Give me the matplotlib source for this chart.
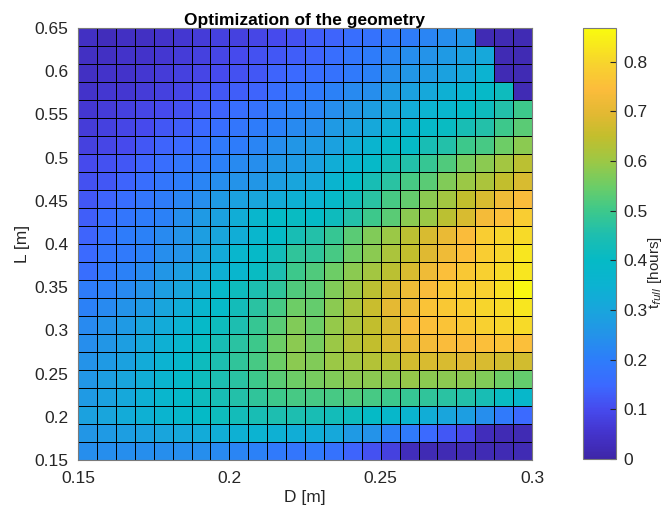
import numpy as np
import matplotlib
matplotlib.use('Agg')
import matplotlib.pyplot as plt
from matplotlib.colors import LinearSegmentedColormap

# grid edges (pcolor style, 24 x 24 cells)
D_edges = np.linspace(0.15, 0.30, 25)
L_edges = np.linspace(0.15, 0.65, 25)

# t [hours], rows from top (L = 0.65) to bottom (L = 0.15), columns D = 0.15 -> 0.30
t_rows = [
    [0.04, 0.03, 0.04, 0.04, 0.05, 0.06, 0.07, 0.08, 0.08, 0.09, 0.10, 0.11, 0.13, 0.14, 0.16, 0.17, 0.19, 0.20, 0.22, 0.24, 0.26, 0.02, 0.02, 0.02],
    [0.04, 0.04, 0.05, 0.05, 0.06, 0.07, 0.08, 0.09, 0.10, 0.11, 0.12, 0.13, 0.14, 0.16, 0.18, 0.20, 0.22, 0.24, 0.25, 0.27, 0.29, 0.31, 0.02, 0.02],
    [0.04, 0.05, 0.05, 0.06, 0.07, 0.08, 0.09, 0.10, 0.11, 0.12, 0.14, 0.15, 0.16, 0.17, 0.19, 0.21, 0.24, 0.26, 0.27, 0.29, 0.31, 0.35, 0.02, 0.02],
    [0.05, 0.06, 0.06, 0.07, 0.08, 0.09, 0.11, 0.12, 0.13, 0.14, 0.16, 0.18, 0.19, 0.21, 0.23, 0.24, 0.27, 0.29, 0.31, 0.34, 0.36, 0.39, 0.42, 0.02],
    [0.06, 0.07, 0.08, 0.09, 0.10, 0.11, 0.13, 0.14, 0.16, 0.17, 0.20, 0.21, 0.22, 0.24, 0.26, 0.28, 0.30, 0.32, 0.35, 0.37, 0.40, 0.42, 0.46, 0.50],
    [0.07, 0.08, 0.09, 0.10, 0.12, 0.13, 0.15, 0.16, 0.18, 0.20, 0.21, 0.23, 0.24, 0.27, 0.29, 0.31, 0.34, 0.36, 0.39, 0.41, 0.44, 0.46, 0.50, 0.53],
    [0.08, 0.09, 0.10, 0.12, 0.14, 0.15, 0.17, 0.19, 0.20, 0.22, 0.24, 0.26, 0.27, 0.29, 0.33, 0.36, 0.39, 0.40, 0.44, 0.46, 0.50, 0.51, 0.55, 0.58],
    [0.10, 0.11, 0.12, 0.14, 0.16, 0.18, 0.19, 0.21, 0.23, 0.24, 0.26, 0.27, 0.29, 0.33, 0.36, 0.39, 0.43, 0.46, 0.49, 0.52, 0.56, 0.58, 0.61, 0.64],
    [0.11, 0.12, 0.14, 0.16, 0.18, 0.20, 0.22, 0.24, 0.25, 0.26, 0.28, 0.30, 0.31, 0.36, 0.40, 0.44, 0.47, 0.51, 0.53, 0.57, 0.60, 0.62, 0.65, 0.68],
    [0.12, 0.14, 0.16, 0.18, 0.20, 0.22, 0.24, 0.27, 0.29, 0.30, 0.32, 0.34, 0.35, 0.39, 0.43, 0.47, 0.51, 0.54, 0.58, 0.61, 0.65, 0.68, 0.72, 0.74],
    [0.13, 0.16, 0.18, 0.20, 0.21, 0.24, 0.27, 0.29, 0.33, 0.37, 0.40, 0.41, 0.40, 0.42, 0.46, 0.50, 0.53, 0.58, 0.60, 0.64, 0.68, 0.73, 0.75, 0.78],
    [0.14, 0.17, 0.20, 0.21, 0.23, 0.25, 0.28, 0.30, 0.33, 0.37, 0.40, 0.44, 0.46, 0.49, 0.53, 0.57, 0.60, 0.64, 0.68, 0.71, 0.74, 0.78, 0.80, 0.81],
    [0.15, 0.18, 0.19, 0.21, 0.24, 0.25, 0.29, 0.32, 0.37, 0.39, 0.43, 0.48, 0.48, 0.51, 0.55, 0.58, 0.62, 0.65, 0.69, 0.72, 0.75, 0.78, 0.80, 0.83],
    [0.16, 0.19, 0.21, 0.23, 0.26, 0.28, 0.31, 0.34, 0.37, 0.41, 0.45, 0.50, 0.52, 0.55, 0.58, 0.61, 0.64, 0.68, 0.72, 0.75, 0.77, 0.79, 0.81, 0.83],
    [0.20, 0.21, 0.23, 0.25, 0.28, 0.30, 0.33, 0.38, 0.42, 0.45, 0.48, 0.52, 0.53, 0.57, 0.60, 0.64, 0.68, 0.72, 0.74, 0.77, 0.78, 0.79, 0.82, 0.86],
    [0.21, 0.23, 0.25, 0.27, 0.30, 0.33, 0.37, 0.39, 0.43, 0.47, 0.51, 0.55, 0.54, 0.58, 0.62, 0.66, 0.70, 0.72, 0.76, 0.77, 0.78, 0.80, 0.81, 0.83],
    [0.23, 0.25, 0.27, 0.30, 0.32, 0.35, 0.39, 0.42, 0.45, 0.49, 0.53, 0.57, 0.55, 0.59, 0.62, 0.65, 0.68, 0.74, 0.75, 0.76, 0.77, 0.79, 0.80, 0.81],
    [0.24, 0.26, 0.28, 0.31, 0.34, 0.37, 0.41, 0.44, 0.47, 0.50, 0.55, 0.58, 0.56, 0.60, 0.63, 0.65, 0.68, 0.71, 0.73, 0.74, 0.74, 0.75, 0.76, 0.75],
    [0.25, 0.27, 0.29, 0.32, 0.35, 0.38, 0.42, 0.45, 0.48, 0.51, 0.55, 0.58, 0.57, 0.60, 0.61, 0.63, 0.64, 0.67, 0.68, 0.68, 0.69, 0.68, 0.67, 0.67],
    [0.26, 0.28, 0.30, 0.33, 0.36, 0.39, 0.42, 0.45, 0.47, 0.50, 0.53, 0.55, 0.56, 0.57, 0.58, 0.58, 0.58, 0.59, 0.58, 0.58, 0.58, 0.57, 0.55, 0.54],
    [0.27, 0.29, 0.31, 0.34, 0.37, 0.39, 0.42, 0.44, 0.46, 0.48, 0.50, 0.51, 0.51, 0.51, 0.52, 0.51, 0.50, 0.49, 0.48, 0.47, 0.46, 0.44, 0.41, 0.38],
    [0.29, 0.30, 0.32, 0.34, 0.36, 0.38, 0.40, 0.42, 0.43, 0.44, 0.45, 0.45, 0.44, 0.43, 0.42, 0.40, 0.38, 0.36, 0.33, 0.30, 0.28, 0.24, 0.19, 0.15],
    [0.26, 0.27, 0.28, 0.29, 0.30, 0.31, 0.32, 0.33, 0.34, 0.35, 0.34, 0.33, 0.33, 0.31, 0.27, 0.25, 0.21, 0.19, 0.15, 0.12, 0.09, 0.03, 0.02, 0.02],
    [0.24, 0.24, 0.24, 0.24, 0.24, 0.24, 0.24, 0.23, 0.22, 0.21, 0.19, 0.18, 0.19, 0.17, 0.14, 0.11, 0.08, 0.03, 0.02, 0.02, 0.02, 0.02, 0.02, 0.02],
]
T = np.array(t_rows)[::-1]  # bottom row first

# parula-like colormap
stops = [
    (0.00, (62, 38, 168)), (0.06, (68, 52, 205)), (0.115, (70, 75, 238)),
    (0.17, (60, 105, 255)), (0.23, (45, 125, 250)), (0.29, (35, 148, 232)),
    (0.345, (25, 165, 220)), (0.40, (12, 178, 210)), (0.46, (5, 186, 198)),
    (0.52, (30, 190, 175)), (0.575, (60, 200, 140)), (0.63, (105, 205, 105)),
    (0.69, (155, 200, 70)), (0.75, (195, 190, 45)), (0.80, (225, 185, 50)),
    (0.86, (252, 188, 60)), (0.92, (247, 212, 45)), (1.00, (249, 251, 14)),
]
parula = LinearSegmentedColormap.from_list(
    'parula', [(p, tuple(c / 255 for c in rgb)) for p, rgb in stops])

plt.rcParams['font.family'] = ['Liberation Sans', 'DejaVu Sans']
grey = '#262626'

fig = plt.figure(figsize=(6.65, 5.16), dpi=100)
ax = fig.add_axes([78 / 665, 56 / 516, 454 / 665, 432 / 516])
mesh = ax.pcolormesh(D_edges, L_edges, T, cmap=parula, vmin=0, vmax=0.868,
                     edgecolors='k', linewidth=0.6)
ax.set_xlim(0.15, 0.30)
ax.set_ylim(0.15, 0.65)
ax.set_xticks([0.15, 0.2, 0.25, 0.3])
ax.set_xticklabels(['0.15', '0.2', '0.25', '0.3'])
ax.set_yticks(np.arange(0.15, 0.651, 0.05))
ax.set_yticklabels(['0.15', '0.2', '0.25', '0.3', '0.35', '0.4', '0.45', '0.5', '0.55', '0.6', '0.65'])
ax.tick_params(axis='x', length=0, labelsize=12.5, colors=grey, pad=8)
ax.tick_params(axis='y', length=0, labelsize=12.5, colors=grey, pad=7)
for s in ax.spines.values():
    s.set_color('#7a7a7a')
    s.set_linewidth(0.8)
ax.set_xlabel('D [m]', fontsize=12.5, color=grey, labelpad=3)
ax.set_ylabel('L [m]', fontsize=12.5, color=grey, labelpad=3)
ax.set_title('Optimization of the geometry', fontsize=12.5, fontweight='bold', pad=2)

cax = fig.add_axes([583 / 665, 57 / 516, 33 / 665, 431 / 516])
cb = fig.colorbar(mesh, cax=cax, ticks=np.arange(0, 0.81, 0.1))
cb.set_ticklabels(['0', '0.1', '0.2', '0.3', '0.4', '0.5', '0.6', '0.7', '0.8'])
cb.ax.tick_params(direction='in', length=4, labelsize=12.5, colors=grey, width=0.8, pad=5)
cb.outline.set_edgecolor('#7a7a7a')
cb.outline.set_linewidth(0.8)
# colour bar label, kept inside the figure
fig.text(646 / 665, 244 / 516, 't$_{full}$ [hours]', rotation=90, fontsize=11,
         color=grey, ha='left', va='center')

plt.savefig('out.png', dpi=100)
